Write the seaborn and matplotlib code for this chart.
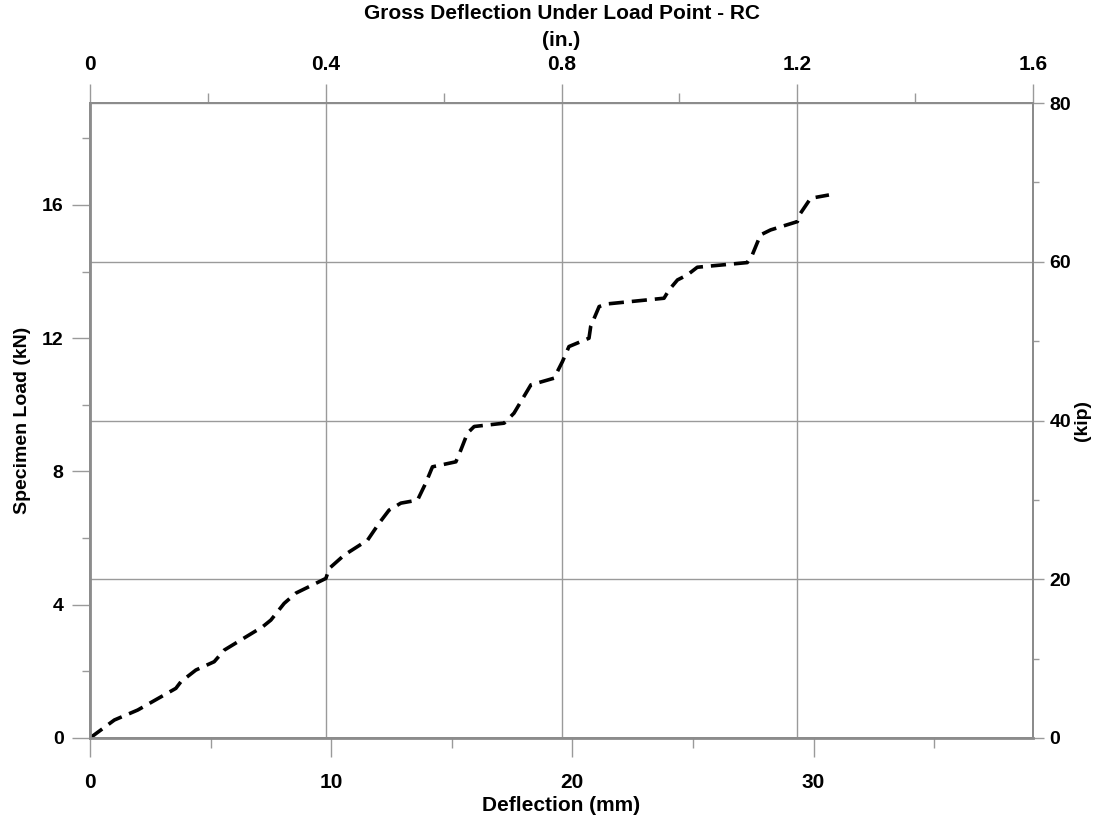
import matplotlib
matplotlib.use("Agg")
import matplotlib.pyplot as plt
import seaborn as sns
import pandas as pd
from matplotlib.ticker import MultipleLocator, FixedLocator

# ---- data ----
deflection_mm = [0.00, 1.01, 1.98, 3.56, 3.77, 4.39, 5.15, 5.57, 7.16, 7.50,
                 8.05, 8.54, 9.78, 9.92, 10.54, 11.51, 11.99, 12.40, 12.89, 13.58,
                 13.92, 14.20, 15.17, 15.38, 15.65, 15.93, 17.17, 17.58, 18.28, 19.24,
                 19.59, 19.86, 20.69, 20.76, 21.11, 21.45, 23.80, 24.01, 24.36, 24.77,
                 25.18, 27.25, 27.46, 27.80, 28.22, 29.33, 29.46, 29.88, 30.64]
load_kN = [0.00, 0.54, 0.84, 1.49, 1.69, 2.04, 2.29, 2.64, 3.34, 3.54,
           4.04, 4.35, 4.79, 5.09, 5.49, 5.94, 6.45, 6.84, 7.05, 7.14,
           7.65, 8.14, 8.29, 8.65, 9.15, 9.35, 9.45, 9.75, 10.60, 10.80,
           11.30, 11.75, 12.00, 12.35, 12.95, 13.03, 13.20, 13.45, 13.75, 13.90,
           14.13, 14.27, 14.50, 15.10, 15.25, 15.50, 15.75, 16.20, 16.30]

bottom_ticks_mm = [0, 10, 20, 30]
bottom_minor_mm = [5, 15, 25, 35]
top_ticks_in = [0, 0.4, 0.8, 1.2, 1.6]
top_minor_in = [0.2, 0.6, 1.0, 1.4]
left_ticks_kN = [0, 4, 8, 12, 16]
right_ticks_kip = [0, 20, 40, 60, 80]
right_minor_kip = [10, 30, 50, 70]

x_max_mm = 39.1
x_max_in = 1.6
y_max_kN = 19.06
y_max_kip = 80

sns.set_theme(style="white")
plt.rcParams['font.family'] = ['Liberation Sans', 'DejaVu Sans']
plt.rcParams['text.color'] = 'black'
plt.rcParams['axes.labelcolor'] = 'black'
plt.rcParams['xtick.labelcolor'] = 'black'
plt.rcParams['ytick.labelcolor'] = 'black'
narrow = ['Liberation Sans Narrow', 'Liberation Sans', 'DejaVu Sans']

GRAY = '#8c8c8c'
GRID = '#9a9a9a'

fig = plt.figure(figsize=(11.13, 8.16), dpi=100)
ax = fig.add_axes([90 / 1113, 78 / 816, 943 / 1113, 635 / 816])

df = pd.DataFrame({"Deflection (mm)": deflection_mm, "Load (kN)": load_kN})
sns.lineplot(data=df, x="Deflection (mm)", y="Load (kN)", ax=ax, sort=False,
             estimator=None, color='black', linewidth=2.6)
ln = ax.lines[0]
ln.set_dashes((4.2, 2.2))
ln.set_dash_capstyle('butt')
ln.set_solid_capstyle('butt')

ax.set_xlim(0, x_max_mm)
ax.set_ylim(0, y_max_kN)

# top axis (inches) with vertical grid
axt = ax.twiny()
axt.set_xlim(0, x_max_in)
axt.xaxis.set_major_locator(FixedLocator(top_ticks_in))
axt.xaxis.set_minor_locator(FixedLocator(top_minor_in))
axt.set_xticklabels(['0', '0.4', '0.8', '1.2', '1.6'], family=narrow,
                    fontsize=15, fontweight='bold', color='black')
axt.grid(True, axis='x', which='major', color=GRID, linewidth=1.0)
axt.tick_params(axis='x', which='major', length=14, width=1.0, color=GRID, pad=7, top=True)
axt.tick_params(axis='x', which='minor', length=7, width=1.0, color=GRID, top=True)
axt.set_xlabel("Gross Deflection Under Load Point - RC\n(in.)", family=narrow,
               fontsize=15, fontweight='bold', labelpad=6, linespacing=1.55,
               color='black')

# right axis (kip) with horizontal grid
axr = ax.twinx()
axr.set_ylim(0, y_max_kip)
axr.yaxis.set_major_locator(FixedLocator(right_ticks_kip))
axr.yaxis.set_minor_locator(FixedLocator(right_minor_kip))
axr.set_yticklabels([str(v) for v in right_ticks_kip], fontsize=14,
                    fontweight='bold', color='black')
axr.grid(True, axis='y', which='major', color=GRID, linewidth=1.0)
axr.tick_params(axis='y', which='major', length=8, width=1.0, color=GRID, pad=4, right=True)
axr.tick_params(axis='y', which='minor', length=4, width=1.0, color=GRID, right=True)
axr.set_ylabel("(kip)", fontsize=14, fontweight='bold', labelpad=2, color='black')

# main axis ticks
ax.xaxis.set_major_locator(FixedLocator(bottom_ticks_mm))
ax.xaxis.set_minor_locator(FixedLocator(bottom_minor_mm))
ax.set_xticklabels([str(v) for v in bottom_ticks_mm], family=narrow,
                   fontsize=15, fontweight='bold', color='black')
ax.yaxis.set_major_locator(FixedLocator(left_ticks_kN))
ax.yaxis.set_minor_locator(MultipleLocator(2))
ax.set_yticklabels([str(v) for v in left_ticks_kN], fontsize=14,
                   fontweight='bold', color='black')
ax.tick_params(axis='x', which='major', length=14, width=1.0, color=GRID, pad=11, bottom=True)
ax.tick_params(axis='x', which='minor', length=7, width=1.0, color=GRID, bottom=True)
ax.tick_params(axis='y', which='major', length=13, width=1.0, color=GRID, pad=6, left=True)
ax.tick_params(axis='y', which='minor', length=6, width=1.0, color=GRID, left=True)
ax.set_xlabel("Deflection (mm)", family=narrow, fontsize=15, fontweight='bold',
              labelpad=3, color='black')
ax.set_ylabel("Specimen Load (kN)", fontsize=14, fontweight='bold', labelpad=8,
              color='black')

for a in (ax, axt, axr):
    for s in a.spines.values():
        s.set_color(GRAY)
        s.set_linewidth(1.2)
ax.spines['left'].set_linewidth(2.0)
ax.spines['bottom'].set_linewidth(2.0)

# keep data line above grids
ax.set_zorder(3)
ax.patch.set_visible(False)
axt.set_zorder(1)
axr.set_zorder(2)

fig.savefig("out.png", dpi=100, facecolor='white')
